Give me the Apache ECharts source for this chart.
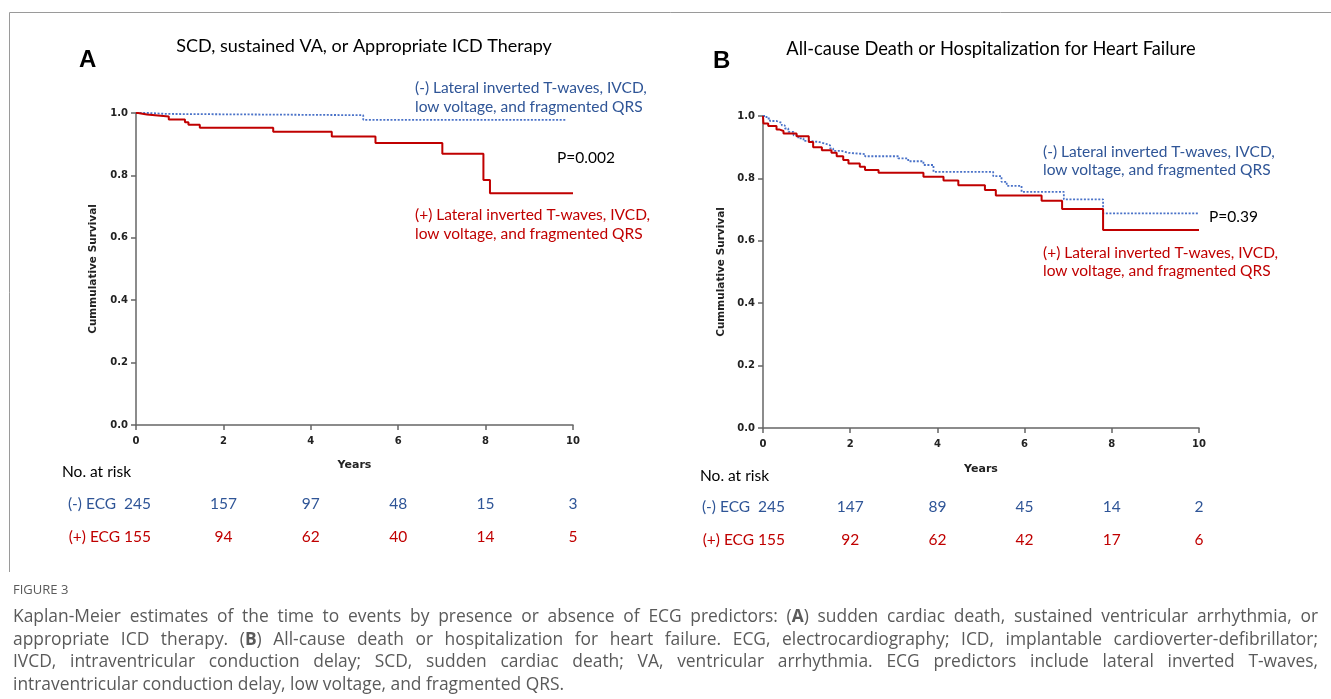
<!DOCTYPE html>
<html><head><meta charset="utf-8">
<script src="https://cdn.jsdelivr.net/npm/echarts@6/dist/echarts.min.js"></script>
<style>html,body{margin:0;padding:0;background:#fff}#c{width:1331px;height:699px}</style>
</head><body><div id="c"></div>
<script>
// ---------- data ----------
const xTicks = [0, 2, 4, 6, 8, 10];
// Panel A: SCD, sustained VA, or appropriate ICD therapy
const aNegTime = [0, 0.3, 0.7, 5.2, 9.85];
const aNegSurv = [1.0, 0.997, 0.993, 0.978, 0.978];
const aPosTime = [0, 0.05, 0.25, 0.75, 1.12, 1.2, 1.46, 3.14, 4.48, 5.48, 7.01, 7.95, 8.1, 10];
const aPosSurv = [1.0, 0.995, 0.989, 0.979, 0.970, 0.962, 0.953, 0.940, 0.925, 0.904, 0.869, 0.785, 0.743, 0.743];
// Panel B: all-cause death or HF hospitalization
const bNegTime = [0, 0.08, 0.16, 0.31, 0.43, 0.50, 0.58, 0.70, 0.81, 0.93, 1.08, 1.27, 1.42, 1.54, 1.61, 1.80, 1.96, 2.34, 3.10, 3.33, 3.68, 3.91, 5.28, 5.47, 5.59, 5.93, 6.90, 7.80, 10];
const bNegSurv = [1.0, 0.992, 0.984, 0.978, 0.970, 0.960, 0.949, 0.938, 0.928, 0.920, 0.917, 0.912, 0.906, 0.896, 0.888, 0.882, 0.878, 0.871, 0.864, 0.855, 0.843, 0.821, 0.807, 0.789, 0.776, 0.757, 0.733, 0.688, 0.688];
const bPosTime = [0, 0.01, 0.12, 0.31, 0.37, 0.47, 0.77, 1.05, 1.15, 1.35, 1.57, 1.69, 1.84, 1.96, 2.22, 2.34, 2.65, 3.68, 4.14, 4.48, 5.09, 5.34, 6.39, 6.86, 7.80, 10];
const bPosSurv = [1.0, 0.976, 0.968, 0.957, 0.952, 0.944, 0.935, 0.917, 0.900, 0.890, 0.882, 0.871, 0.859, 0.848, 0.837, 0.827, 0.818, 0.805, 0.793, 0.778, 0.763, 0.745, 0.728, 0.702, 0.635, 0.635];
// Numbers at risk
const riskNegA = [245, 157, 97, 48, 15, 3];
const riskPosA = [155, 94, 62, 40, 14, 5];
const riskNegB = [245, 147, 89, 45, 14, 2];
const riskPosB = [155, 92, 62, 42, 17, 6];

const titleA = 'SCD, sustained VA, or Appropriate ICD Therapy';
const titleB = 'All-cause Death or Hospitalization for Heart Failure';
const negLabel = ['(-) Lateral inverted T-waves, IVCD,', 'low voltage, and fragmented QRS'];
const posLabel = ['(+) Lateral inverted T-waves, IVCD,', 'low voltage, and fragmented QRS'];
const captionLines = [
 'Kaplan-Meier estimates of the time to events by presence or absence of ECG predictors: (A) sudden cardiac death, sustained ventricular arrhythmia, or',
 'appropriate ICD therapy. (B) All-cause death or hospitalization for heart failure. ECG, electrocardiography; ICD, implantable cardioverter-defibrillator;',
 'IVCD, intraventricular conduction delay; SCD, sudden cardiac death; VA, ventricular arrhythmia. ECG predictors include lateral inverted T-waves,',
 'intraventricular conduction delay, low voltage, and fragmented QRS.'
];

// ---------- styles ----------
const BLUE_LINE = '#4a72c8', BLUE_TXT = '#2f5597', RED = '#c00000';
const CAL = 'Lato, "Open Sans", sans-serif';
const AX = '"DejaVu Sans", Verdana, sans-serif';

const pairs = (t, s) => t.map((v, i) => [v, s[i]]);

function valX(gridIdx, name, gap) {
  return {
    type: 'value', gridIndex: gridIdx, min: 0, max: 10, interval: 2,
    name: name, nameLocation: 'middle', nameGap: gap,
    nameTextStyle: { fontFamily: AX, fontWeight: 'bold', fontSize: 11, color: '#222' },
    axisLine: { show: true, lineStyle: { color: '#666', width: 1.5 } },
    axisTick: { show: true, length: 5, lineStyle: { color: '#666', width: 1.5 } },
    axisLabel: { fontFamily: AX, fontWeight: 'bold', fontSize: 10, color: '#222', margin: 11 },
    splitLine: { show: false }
  };
}
function valY(gridIdx, gap) {
  return {
    type: 'value', gridIndex: gridIdx, min: 0, max: 1, interval: 0.2,
    name: 'Cummulative Survival', nameLocation: 'middle', nameGap: gap, nameRotate: 90,
    nameTextStyle: { fontFamily: AX, fontWeight: 'bold', fontSize: 10.5, color: '#222' },
    axisLine: { show: true, lineStyle: { color: '#666', width: 1.5 } },
    axisTick: { show: true, length: 5, lineStyle: { color: '#666', width: 1.5 } },
    axisLabel: { fontFamily: AX, fontWeight: 'bold', fontSize: 10, color: '#222', margin: 8,
      formatter: v => v.toFixed(1) },
    splitLine: { show: false }
  };
}
function riskSeries(vals, row, prefix, color, xi, offX) {
  return {
    type: 'scatter', xAxisIndex: xi, yAxisIndex: xi, symbolSize: 1,
    itemStyle: { color: 'rgba(0,0,0,0)' }, silent: true,
    label: { show: true, position: 'inside', color: color, opacity: 1,
      textBorderWidth: 0, textBorderColor: 'transparent',
      fontFamily: CAL, fontSize: 15.5,
      formatter: p => (p.dataIndex === 0 ? prefix : '') + p.value[2] },
    data: vals.map((v, i) => i === 0
      ? { value: [xTicks[i], row, v], label: { align: 'right', offset: [offX, 0] } }
      : { value: [xTicks[i], row, v] })
  };
}

function txt(x, y, text, color, font, align, rich) {
  const st = { text: text, fill: color, font: font, textAlign: align || 'left', textVerticalAlign: 'middle' };
  if (rich) st.rich = rich;
  return { type: 'text', x: x, y: y, silent: true, style: st };
}

// justified caption via measured word positions
const capFont = '17.4px "Open Sans", sans-serif';
const capBold = 'bold 17.4px "Open Sans", sans-serif';
const mctx = document.createElement('canvas').getContext('2d');
const capLeft = 13, capRight = 1318, capY = [617, 640, 662, 685];
const captionEls = [];
const isPanelRef = w => w === '(A)' || w === '(B)';
function wordWidth(w) {
  if (isPanelRef(w)) {
    mctx.font = capFont; const a = mctx.measureText('()').width;
    mctx.font = capBold; const b = mctx.measureText(w[1]).width;
    return a + b;
  }
  mctx.font = capFont; return mctx.measureText(w).width;
}
captionLines.forEach((line, li) => {
  const words = line.split(' ');
  const widths = words.map(wordWidth);
  const total = widths.reduce((a, b) => a + b, 0);
  const last = li === captionLines.length - 1;
  mctx.font = capFont;
  const sp = mctx.measureText(' ').width;
  let gap = last ? sp : (capRight - capLeft - total) / (words.length - 1);
  if (gap < 2) gap = 2;
  let x = capLeft;
  words.forEach((w, i) => {
    if (isPanelRef(w)) {
      captionEls.push(txt(x, capY[li], '(' + '{b|' + w[1] + '})', '#5a5a5a', capFont, 'left',
        { b: { fontWeight: 'bold', fontSize: 17.4, fontFamily: '"Open Sans", sans-serif', fill: '#5a5a5a' } }));
    } else {
      captionEls.push(txt(x, capY[li], w, '#5a5a5a', capFont));
    }
    x += widths[i] + gap;
  });
});

const chart = echarts.init(document.getElementById('c'));
chart.setOption({
  animation: false,
  backgroundColor: '#fff',
  grid: [
    { left: 136, top: 113, width: 437, height: 312 },
    { left: 763, top: 116, width: 436, height: 312 },
    { left: 136, top: 487.5, width: 437, height: 66 },
    { left: 763, top: 490.5, width: 436, height: 66 }
  ],
  xAxis: [
    valX(0, 'Years', 35),
    valX(1, 'Years', 36),
    { type: 'value', gridIndex: 2, min: 0, max: 10, interval: 2, show: false },
    { type: 'value', gridIndex: 3, min: 0, max: 10, interval: 2, show: false }
  ],
  yAxis: [
    valY(0, 37),
    valY(1, 36),
    { type: 'category', gridIndex: 2, data: ['neg', 'pos'], inverse: true, show: false },
    { type: 'category', gridIndex: 3, data: ['neg', 'pos'], inverse: true, show: false }
  ],
  series: [
    { type: 'line', xAxisIndex: 0, yAxisIndex: 0, step: 'end', showSymbol: false, symbol: 'none',
      data: pairs(aNegTime, aNegSurv), lineStyle: { color: BLUE_LINE, width: 1.8, type: [2, 1.6] } },
    { type: 'line', xAxisIndex: 0, yAxisIndex: 0, step: 'end', showSymbol: false, symbol: 'none',
      data: pairs(aPosTime, aPosSurv), lineStyle: { color: RED, width: 2 } },
    { type: 'line', xAxisIndex: 1, yAxisIndex: 1, step: 'end', showSymbol: false, symbol: 'none',
      data: pairs(bNegTime, bNegSurv), lineStyle: { color: BLUE_LINE, width: 1.8, type: [2, 1.6] } },
    { type: 'line', xAxisIndex: 1, yAxisIndex: 1, step: 'end', showSymbol: false, symbol: 'none',
      data: pairs(bPosTime, bPosSurv), lineStyle: { color: RED, width: 2 } },
    riskSeries(riskNegA, 'neg', '(-) ECG  ', BLUE_TXT, 2, 15),
    riskSeries(riskPosA, 'pos', '(+) ECG ', RED, 2, 15),
    riskSeries(riskNegB, 'neg', '(-) ECG  ', BLUE_TXT, 3, 22),
    riskSeries(riskPosB, 'pos', '(+) ECG ', RED, 3, 22)
  ],
  graphic: [
    { type: 'polyline', silent: true, shape: { points: [[9.5, 572], [9.5, 12.5], [1331, 12.5]] },
      style: { stroke: '#9a9a9a', lineWidth: 1, fill: null } },
    txt(79, 60, 'A', '#000', 'bold 24px "Liberation Sans", Arial, sans-serif'),
    txt(713, 61, 'B', '#000', 'bold 24px "Liberation Sans", Arial, sans-serif'),
    txt(364, 46, titleA, '#000', '18px ' + CAL, 'center'),
    txt(991, 49, titleB, '#000', '18.3px ' + CAL, 'center'),
    txt(415, 88, negLabel[0], BLUE_TXT, '15.5px ' + CAL),
    txt(415, 107, negLabel[1], BLUE_TXT, '15.5px ' + CAL),
    txt(557, 158, 'P=0.002', '#000', '15.5px ' + CAL),
    txt(415, 215, posLabel[0], RED, '15.5px ' + CAL),
    txt(415, 234, posLabel[1], RED, '15.5px ' + CAL),
    txt(1043, 152, negLabel[0], BLUE_TXT, '15.5px ' + CAL),
    txt(1043, 170, negLabel[1], BLUE_TXT, '15.5px ' + CAL),
    txt(1209, 217, 'P=0.39', '#000', '15.5px ' + CAL),
    txt(1043, 253, posLabel[0], RED, '15.5px ' + CAL),
    txt(1043, 271, posLabel[1], RED, '15.5px ' + CAL),
    txt(62, 472, 'No. at risk', '#000', '15.5px ' + CAL),
    txt(700, 476, 'No. at risk', '#000', '15.5px ' + CAL),
    txt(13, 590, 'FIGURE 3', '#5a5a5a', '13px "Open Sans", sans-serif')
  ].concat(captionEls)
});
</script></body></html>
